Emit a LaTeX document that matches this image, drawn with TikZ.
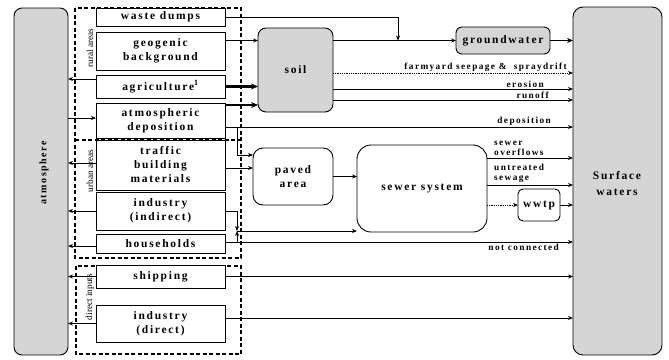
\documentclass[tikz,border=0pt]{standalone}
\usepackage{fontspec}
\setmainfont{Liberation Serif}
\newfontfamily\bxf{Liberation Serif}[LetterSpace=15]
\usetikzlibrary{arrows.meta}
\begin{document}
\begin{tikzpicture}[x=1pt,y=-1pt,
  src/.style={draw, line width=0.8pt, fill=white, minimum width=129pt, inner sep=0pt, outer sep=0pt, align=center, font=\bxf\bfseries\fontsize{11.5}{14}\selectfont},
  gbox/.style={draw, line width=0.9pt, fill=gray!33, inner sep=0pt, outer sep=0pt, align=center, font=\bxf\bfseries\fontsize{11.5}{14}\selectfont},
  wbox/.style={draw, line width=0.9pt, fill=white, inner sep=0pt, outer sep=0pt, align=center, font=\bxf\bfseries\fontsize{11.5}{14}\selectfont},
  arr/.style={-{Stealth[length=5pt,width=4pt]}, line width=0.7pt},
  thk/.style={-{Stealth[length=7pt,width=6pt]}, line width=2.6pt},
  dotl/.style={-{Stealth[length=5pt,width=4pt]}, line width=0.8pt, densely dotted},
  lbl/.style={font=\bxf\bfseries\fontsize{9.3}{10.5}\selectfont, inner sep=1pt, align=left},
  sidel/.style={rotate=90, font=\fontsize{9.3}{10}\selectfont, inner sep=0pt},
  dbox/.style={line width=1.4pt, dash pattern=on 4pt off 2.5pt}
]
\useasboundingbox (0,0) rectangle (669,359);

% dashed groups
\draw[dbox] (75,8) rectangle (241,258);
\draw[dbox] (75,140) -- (241,140);
\draw[dbox] (76,266) rectangle (241,354);
\node[sidel] (rural) at (90,48) {rural areas};
\node[sidel] (urban) at (90,171) {urban areas};
\node[sidel] (direct) at (90,297) {direct inputs};

% big boxes
\node[gbox, rounded corners=8pt, minimum width=54pt, minimum height=347pt] (atm) at (41,181.5) {};
\node[rotate=90, font=\bxf\bfseries\fontsize{10}{11}\selectfont] (atmlbl) at (44,173) {atmosphere};
\node[gbox, rounded corners=10pt, minimum width=89pt, minimum height=348pt] (surf) at (617.5,181) {};
\node[align=center, font=\bxf\bfseries\fontsize{11.5}{16}\selectfont] (surflbl) at (617,184) {Surface\\waters};

% sources
\node[src, minimum height=18pt] (waste) at (160.5,17) {waste dumps};
\node[src, minimum height=38pt] (geo) at (160.5,51) {geogenic\\background};
\node[src, minimum height=23pt] (agri) at (160.5,86.5) {agriculture\textsuperscript{1}};
\node[src, minimum height=35pt] (atmdep) at (160.5,120.5) {atmospheric\\deposition};
\node[src, minimum height=50pt] (traffic) at (160.5,165) {traffic\\building\\materials};
\node[src, minimum height=38pt] (indind) at (160.5,211) {industry\\(indirect)};
\node[src, minimum height=19pt] (house) at (160.5,244) {households};
\node[src, minimum height=23pt] (ship) at (160.5,276.5) {shipping};
\node[src, minimum height=37pt] (inddir) at (160.5,323.5) {industry\\(direct)};

% intermediate boxes
\node[gbox, rounded corners=8pt, minimum width=75pt, minimum height=84pt] (soil) at (295.5,70) {soil};
\node[gbox, rounded corners=6pt, minimum width=94pt, minimum height=27pt] (gw) at (503,40.5) {groundwater};
\node[wbox, rounded corners=10pt, minimum width=80pt, minimum height=57pt] (paved) at (293,176.5) {paved\\area};
\node[wbox, rounded corners=14pt, minimum width=130pt, minimum height=87pt] (sewer) at (422,188.5) {sewer system};
\node[wbox, rounded corners=5pt, minimum width=42pt, minimum height=32pt] (wwtp) at (539,205) {wwtp};

% level coordinates
\coordinate (y73) at (0,73);
\coordinate (y89) at (0,89);
\coordinate (y100) at (0,100);
\coordinate (y105) at (0,105);
\coordinate (y79) at (0,79);
\coordinate (y118) at (0,118);
\coordinate (y163) at (0,163);
\coordinate (y155) at (0,155);
\coordinate (y168) at (0,168);
\coordinate (y158) at (0,158);
\coordinate (y185) at (0,185);
\coordinate (y242) at (0,242);
\coordinate (y246) at (0,246);
\coordinate (y318) at (0,318);
\coordinate (wj) at (398,40.5);
\coordinate (dj) at (237,127);
\coordinate (ij) at (237,231);
\coordinate (hj) at (237,242);

% to atmosphere
\draw[arr] (agri.west |- y79) -- (atm.east |- y79);
\draw[arr] (atm.east |- y118) -- (atmdep.west |- y118);
\draw[arr] (traffic.west |- y163) -- (atm.east |- y163);
\draw[arr] (indind.west) -- (atm.east |- indind);
\draw[arr] (house.west |- y246) -- (atm.east |- y246);
\draw[arr] (ship.west) -- (atm.east |- ship);
\draw[arr] (inddir.west) -- (atm.east |- inddir);

% rural flows
\draw[arr] (waste.east) -| (wj);
\draw[arr] (geo.east |- gw) -- (soil.west |- gw);
\draw[arr] (soil.east |- gw) -- (gw.west);
\draw[-{Stealth[length=6pt,width=5pt]}, line width=1.6pt] (gw.east) -- (surf.west |- gw);
\draw[thk] (agri.east) -- (soil.west |- agri);
\draw[thk] (atmdep.east |- y105) -- (soil.west |- y105);
\draw[dotl] (soil.east |- y73) -- (surf.west |- y73);
\node[lbl, anchor=south east] (lfy) at (568,73) {farmyard seepage \&\ \ spraydrift};
\draw[arr] (soil.east |- y89) -- (surf.west |- y89);
\node[lbl, anchor=south east] (ler) at (545,89) {erosion};
\draw[arr] (soil.east |- y100) -- (surf.west |- y100);
\node[lbl, anchor=south east] (lru) at (550,100) {runoff};
\draw[arr] (atmdep.east |- dj) -- (surf.west |- dj);
\node[lbl, anchor=south east] (lde) at (552,127) {deposition};
\draw[arr] (dj) |- (paved.west |- y155);

% urban flows
\draw[arr] (traffic.east |- y168) -- (paved.west |- y168);
\draw[arr] (paved.east) -- (sewer.west |- paved);
\draw[arr] (indind.east) -| (ij);
\draw[arr] (hj) -- (ij);
\draw[arr] (ij) -- (sewer.west |- ij);
\draw[arr] (house.east |- y242) -- (surf.west |- y242);
\node[lbl, anchor=north east] (lnc) at (560,243) {not connected};
\draw[arr] (sewer.east |- y158) -- (surf.west |- y158);
\node[lbl, anchor=south west] (lso) at (493,157) {sewer\\overflows};
\draw[arr] (sewer.east |- y185) -- (surf.west |- y185);
\node[lbl, anchor=south west] (lus) at (493,184) {untreated\\sewage};
\draw[dotl] (sewer.east |- wwtp) -- (wwtp.west);
\draw[arr] (wwtp.east) -- (surf.west |- wwtp);

% direct inputs
\draw[arr] (ship.east) -- (surf.west |- ship);
\draw[arr] (inddir.east |- y318) -- (surf.west |- y318);
\end{tikzpicture}
\end{document}
